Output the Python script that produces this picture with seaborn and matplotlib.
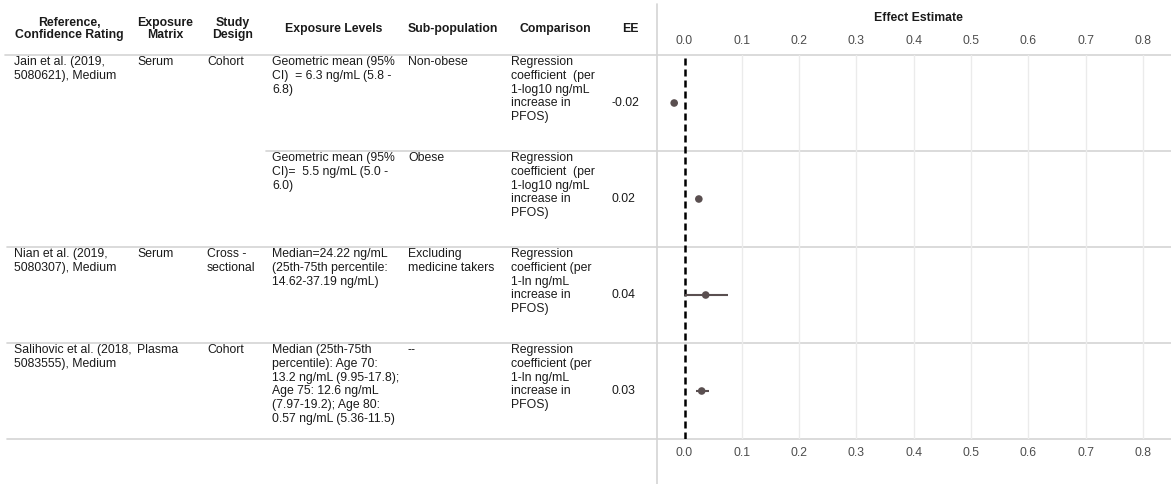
"""Forest plot of PFOS effect estimates with study table"""

import matplotlib

matplotlib.use("Agg")
import matplotlib.pyplot as plt
import numpy as np
import pandas as pd
import seaborn as sns

# --- data -------------------------------------------------------------
references = [
    "Jain et al. (2019,\n5080621), Medium",
    "",
    "Nian et al. (2019,\n5080307), Medium",
    "Salihovic et al. (2018,\n5083555), Medium",
]
matrices = ["Serum", "", "Serum", "Plasma"]
designs = ["Cohort", "", "Cross -\nsectional", "Cohort"]
exposure_levels = [
    "Geometric mean (95%\nCI)  = 6.3 ng/mL (5.8 -\n6.8)",
    "Geometric mean (95%\nCI)=  5.5 ng/mL (5.0 -\n6.0)",
    "Median=24.22 ng/mL\n(25th-75th percentile:\n14.62-37.19 ng/mL)",
    "Median (25th-75th\npercentile): Age 70:\n13.2 ng/mL (9.95-17.8);\n"
    "Age 75: 12.6 ng/mL\n(7.97-19.2); Age 80:\n0.57 ng/mL (5.36-11.5)",
]
subpops = ["Non-obese", "Obese", "Excluding\nmedicine takers", "--"]
comparisons = [
    "Regression\ncoefficient  (per\n1-log10 ng/mL\nincrease in\nPFOS)",
    "Regression\ncoefficient  (per\n1-log10 ng/mL\nincrease in\nPFOS)",
    "Regression\ncoefficient (per\n1-ln ng/mL\nincrease in\nPFOS)",
    "Regression\ncoefficient (per\n1-ln ng/mL\nincrease in\nPFOS)",
]
ee_labels = ["-0.02", "0.02", "0.04", "0.03"]
estimates = [-0.018, 0.025, 0.037, 0.030]
ci_low = [np.nan, np.nan, 0.0, 0.020]
ci_high = [np.nan, np.nan, 0.076, 0.042]

headers = [
    "Reference,\nConfidence Rating",
    "Exposure\nMatrix",
    "Study\nDesign",
    "Exposure Levels",
    "Sub-population",
    "Comparison",
    "EE",
]
x_ticks = [0.0, 0.1, 0.2, 0.3, 0.4, 0.5, 0.6, 0.7, 0.8]

df = pd.DataFrame(
    {"estimate": estimates, "lo": ci_low, "hi": ci_high}
)
df["row"] = np.arange(len(df))

# --- layout (pixels) --------------------------------------------------
W, H = 1171, 484
PLOT_LEFT = 657
TOP, ROW_H = 55, 96
BOTTOM = TOP + ROW_H * len(df)
col_x = [14, 137, 207, 272, 408, 511]
head_x = [69, 165, 233, 334, 453, 555, 630]
EE_X = 612
TXT = "#1a1a1a"
LINE = "#d4d4d4"
DOT = "#5a4f50"

sns.set_theme(style="white")
plt.rcParams["font.family"] = ["Liberation Sans", "DejaVu Sans"]

fig = plt.figure(figsize=(W / 100, H / 100), dpi=100)

# background axes in pixel coordinates for the table
bg = fig.add_axes([0, 0, 1, 1])
bg.set_xlim(0, W)
bg.set_ylim(H, 0)
bg.axis("off")

fs = 8.8
for hx, h in zip(head_x, headers):
    bg.text(hx, 29, h, ha="center", va="center", ma="center",
            fontsize=fs, fontweight="bold", color=TXT, linespacing=1.1)

columns = [references, matrices, designs, exposure_levels, subpops,
           comparisons]
for i in range(len(df)):
    top = TOP + ROW_H * i
    for cx, col in zip(col_x, columns):
        bg.text(cx, top + 1, col[i], ha="left", va="top", fontsize=fs,
                color=TXT, linespacing=1.2)
    bg.text(EE_X, top + ROW_H / 2, ee_labels[i], ha="left", va="center",
            fontsize=fs, color=TXT)

# table grid lines
bg.plot([5, W], [TOP, TOP], color=LINE, lw=1.2)
bg.plot([7, W], [BOTTOM, BOTTOM], color=LINE, lw=1.2)
for i in range(1, len(df)):
    y = TOP + ROW_H * i
    start = 266 if references[i] == "" else 7
    bg.plot([start, W], [y, y], color=LINE, lw=1.2)
bg.plot([PLOT_LEFT, PLOT_LEFT], [4, H], color=LINE, lw=1.2)

# --- forest plot ------------------------------------------------------
ax = fig.add_axes([PLOT_LEFT / W, (H - BOTTOM) / H,
                   (W - PLOT_LEFT) / W, (BOTTOM - TOP) / H])
ax.set_facecolor("none")
ax.set_xlim(-0.048, 0.849)
ax.set_ylim(len(df) - 0.5, -0.5)

for x in x_ticks[1:]:
    ax.axvline(x, color="#ebebeb", lw=1, zorder=0)

ax.axvline(0, color="black", lw=1.8, linestyle=(0, (2.8, 1.6)), zorder=1)
ax.hlines(df["row"], df["lo"], df["hi"], color=DOT, lw=1.5, zorder=2)
sns.scatterplot(data=df, x="estimate", y="row", color=DOT, s=30,
                edgecolor="none", ax=ax, zorder=3, legend=False)

ax.set_xticks(x_ticks)
ax.set_xticklabels([f"{v:.1f}" for v in x_ticks])
ax.set_yticks([])
ax.tick_params(axis="x", length=0, labeltop=True, labelbottom=True,
               pad=6, labelsize=fs, labelcolor="#4d4d4d")
ax.set_xlabel("")
ax.set_ylabel("")
for side in ["top", "bottom", "left", "right"]:
    ax.spines[side].set_visible(False)

ax.text((918 - PLOT_LEFT) / (W - PLOT_LEFT), 1 + 37 / (BOTTOM - TOP),
        "Effect Estimate", transform=ax.transAxes, ha="center",
        va="center", fontsize=fs, fontweight="bold", color=TXT)

fig.savefig("out.png", dpi=100)
